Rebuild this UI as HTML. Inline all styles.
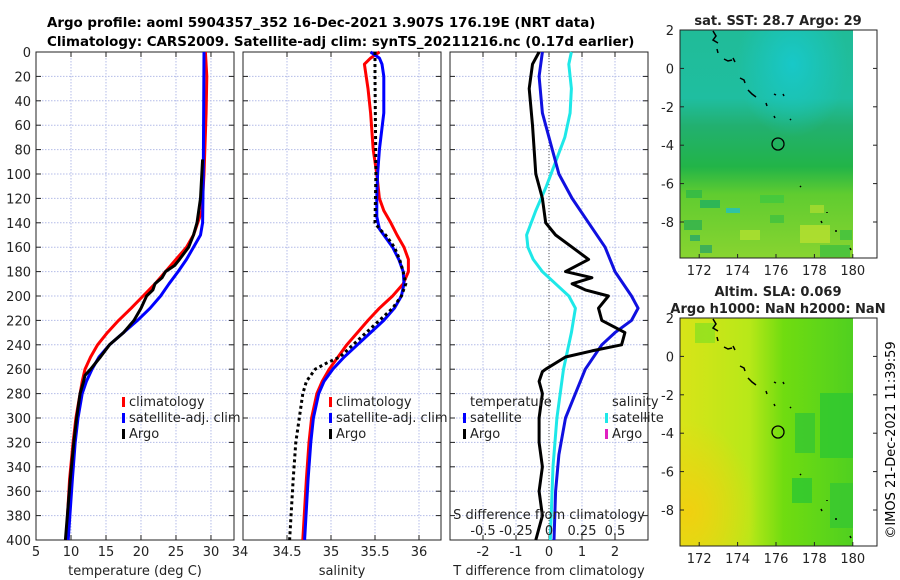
<!DOCTYPE html>
<html><head><meta charset="utf-8">
<style>
body{margin:0;background:#fff;}
svg{display:block;font-family:"DejaVu Sans","Liberation Sans",sans-serif;}
</style></head>
<body>
<svg id="c" width="900" height="580" viewBox="0 0 900 580">
<defs>
<linearGradient id="sstg" x1="0" y1="0" x2="0" y2="1">
<stop offset="0" stop-color="#20bc98"/><stop offset="0.3" stop-color="#1fbea0"/>
<stop offset="0.42" stop-color="#22b070"/><stop offset="0.6" stop-color="#22b448"/>
<stop offset="0.72" stop-color="#60cc30"/><stop offset="1" stop-color="#88d430"/>
</linearGradient>
<radialGradient id="sstc" cx="0.65" cy="0.15" r="0.32"><stop offset="0" stop-color="#18c8c8"/><stop offset="1" stop-color="#18c8c8" stop-opacity="0"/></radialGradient>
<linearGradient id="slag" x1="0" y1="0" x2="1" y2="0">
<stop offset="0" stop-color="#d8e418"/><stop offset="0.4" stop-color="#b8e818"/>
<stop offset="0.6" stop-color="#70dc10"/><stop offset="1" stop-color="#50d020"/>
</linearGradient>
<radialGradient id="slao" cx="0.05" cy="0.85" r="0.4"><stop offset="0" stop-color="#f0d010"/><stop offset="1" stop-color="#f0d010" stop-opacity="0"/></radialGradient>
</defs>
<g id="titles" font-weight="bold" font-size="13.4">
<text x="47" y="27">Argo profile: aoml 5904357_352 16-Dec-2021 3.907S 176.19E (NRT data)</text>
<text x="47" y="46">Climatology: CARS2009. Satellite-adj clim: synTS_20211216.nc (0.17d earlier)</text>
</g>
<g id="plots"></g>
<g id="maps"></g>
<text transform="translate(895,440) rotate(-90)" text-anchor="middle" font-size="13">©IMOS 21-Dec-2021 11:39:59</text>
</svg>
<script>
// ---------- data ----------
const depthTicks=[0,20,40,60,80,100,120,140,160,180,200,220,240,260,280,300,320,340,360,380,400];
const tTicks=[5,10,15,20,25,30];
const sTicks=[34,34.5,35,35.5,36];
const dTTicks=[-2,-1,0,1,2];
const dSTicks=[-0.5,-0.25,0,0.25,0.5];
const dSTickLabels=["-0.5","-0.25","0","0.25","0.5"];

const tClimDepth=[0,20,50,100,130,150,160,170,180,190,200,210,220,230,240,250,260,270,280,300,320,350,400];
const tClimVal=[29.2,29.4,29.3,29,28.7,27.5,26.5,25,23.5,22,20.3,18.6,16.8,15.2,13.8,12.8,12,11.6,11.3,10.7,10.3,9.8,9.3];
const tSatDepth=[0,100,140,150,160,170,180,190,200,210,220,230,240,250,260,270,280,300,320,350,400];
const tSatVal=[29,28.9,28.8,28.5,27.5,26.5,25.3,24,22.8,21.3,19.5,17.5,15.5,14,13,12.2,11.6,11,10.6,10.2,9.6];
const tArgoDepth=[88,120,140,150,160,170,175,180,185,190,195,200,210,220,230,240,250,260,265,270,280,300,320,350,400];
const tArgoVal=[28.8,28.5,28,27.5,26.8,25.5,24.8,23.5,23,22,21.7,20.8,20,19,17.5,15.5,14.2,12.8,12,11.8,11.3,10.8,10.4,9.9,9.2];

const sClimDepth=[0,5,10,30,50,80,100,120,130,140,150,160,170,180,190,200,210,220,230,240,250,260,270,280,300,320,350,400];
const sClimVal=[35.55,35.45,35.38,35.42,35.45,35.48,35.52,35.55,35.6,35.68,35.75,35.83,35.88,35.88,35.82,35.7,35.55,35.42,35.3,35.18,35.08,34.98,34.9,34.84,34.78,34.75,34.72,34.68];
const sSatDepth=[0,5,10,20,50,80,100,120,135,145,150,160,170,180,190,200,210,220,230,240,250,260,270,280,300,320,350,400];
const sSatVal=[35.45,35.55,35.58,35.6,35.6,35.55,35.53,35.52,35.52,35.55,35.6,35.7,35.77,35.82,35.83,35.8,35.72,35.6,35.45,35.3,35.15,35.02,34.92,34.86,34.8,34.77,34.74,34.7];
const sArgoDepth=[0,20,100,140,145,150,160,170,180,190,200,210,220,230,240,250,255,260,270,280,300,320,350,400];
const sArgoVal=[35.5,35.5,35.51,35.5,35.55,35.62,35.72,35.78,35.82,35.85,35.8,35.7,35.55,35.4,35.25,35.1,34.95,34.82,34.72,34.68,34.64,34.6,34.57,34.53];

const dTSatDepth=[0,20,50,80,100,120,140,160,180,200,210,220,230,240,260,280,300,330,360,400];
const dTSatVal=[-0.2,-0.3,-0.2,0.1,0.3,0.7,1.2,1.7,2.0,2.5,2.7,2.5,2.0,1.6,1.1,0.8,0.5,0.3,0.2,0.15];
const dTArgoDepth=[0,10,30,60,100,120,140,150,160,170,180,185,190,195,200,210,220,230,240,245,250,260,262,270,280,300,320,340,360,380,400];
const dTArgoVal=[-0.3,-0.5,-0.6,-0.5,-0.4,-0.2,-0.1,0.2,0.7,1.2,0.5,1.3,0.7,1.1,1.8,1.5,1.6,2.3,2.2,1.3,0.5,-0.1,-0.2,-0.3,-0.2,-0.3,-0.3,-0.2,-0.3,-0.2,-0.4];
const dSSatDepth=[0,10,30,50,70,90,110,130,150,160,170,180,190,200,210,230,260,300,340,400];
const dSSatVal=[0.17,0.15,0.17,0.16,0.12,0.05,-0.02,-0.1,-0.17,-0.16,-0.12,-0.05,0.05,0.15,0.2,0.17,0.11,0.06,0.03,0.01];

const NS="http://www.w3.org/2000/svg";
function mk(tag,attrs,parent){const e=document.createElementNS(NS,tag);for(const k in attrs)e.setAttribute(k,attrs[k]);parent.appendChild(e);return e;}
const Y0=52,Y1=540;
const yD=d=>Y0+(d/400)*(Y1-Y0);
const plots=document.getElementById('plots');

function panel(name,x0,x1,vmin,vmax,ticks,labels){
  const g=mk('g',{},plots);
  
  
  const sx=v=>x0+(v-vmin)/(vmax-vmin)*(x1-x0);
  depthTicks.forEach(d=>{const l=mk('line',{x1:x0,x2:x1,y1:yD(d),y2:yD(d),stroke:'#b4bce8','stroke-dasharray':'1.5,1.5','stroke-width':1},g);
    
    mk('line',{x1:x0,x2:x0+5,y1:yD(d),y2:yD(d),stroke:'#222'},g);mk('line',{x1:x1-5,x2:x1,y1:yD(d),y2:yD(d),stroke:'#222'},g);});
  ticks.forEach((v,i)=>{const x=sx(v);const l=mk('line',{x1:x,x2:x,y1:Y0,y2:Y1,stroke:'#b4bce8','stroke-dasharray':'1.5,1.5'},g);
    
    mk('line',{x1:x,x2:x,y1:Y1-5,y2:Y1,stroke:'#222'},g);mk('line',{x1:x,x2:x,y1:Y0,y2:Y0+5,stroke:'#222'},g);
    if(labels){const t=mk('text',{x:x,y:Y1+16,'text-anchor':'middle','font-size':13,fill:'#222'},g);t.textContent=labels[i];
      }});
  const r=mk('rect',{x:x0,y:Y0,width:x1-x0,height:Y1-Y0,fill:'none',stroke:'#222','stroke-width':1},g);
  
  return {g,sx};
}
function line(p,depths,vals,color,name,dash){
  const pts=depths.map((d,i)=>p.sx(vals[i]).toFixed(1)+','+yD(d).toFixed(1)).join(' ');
  const l=mk('polyline',{points:pts,fill:'none',stroke:color,'stroke-width':3,'stroke-linejoin':'round'},p.g);
  if(dash)l.setAttribute('stroke-dasharray',dash);
  
  
}
function text(g,x,y,s,name,size,anchor){const t=mk('text',{x:x,y:y,'font-size':size||13,fill:'#222','text-anchor':anchor||'start'},g);t.textContent=s;
  return t;}
function legBar(g,x,y,color,name){const r=mk('rect',{x:x,y:y-10,width:3,height:10,fill:color},g);
  }

// Panel 1: temperature
const p1=panel('temperature-panel',36,234,5,33.29,tTicks,tTicks.map(String));
depthTicks.forEach(d=>{const t=text(p1.g,31,yD(d)+5,String(d),'y-tick-label',13,'end');});
line(p1,tClimDepth,tClimVal,'#f00','temperature-climatology-line');
line(p1,tSatDepth,tSatVal,'#00f','temperature-satellite-line');
line(p1,tArgoDepth,tArgoVal,'#000','temperature-argo-line');
text(p1.g,135,575,'temperature (deg C)','x-axis-title',13,'middle');
text(p1.g,240,556,'34','x-tick-label',13,'middle');
legBar(p1.g,122,407,'#f00','legend-climatology-swatch');text(p1.g,129,406,'climatology','legend-climatology');
legBar(p1.g,122,423,'#00f','legend-satellite-swatch');text(p1.g,129,422,'satellite-adj. clim','legend-satellite');
legBar(p1.g,122,439,'#000','legend-argo-swatch');text(p1.g,129,438,'Argo','legend-argo');

// Panel 2: salinity
const p2=panel('salinity-panel',243,441,34,36.25,sTicks.slice(1),["34.5","35","35.5","36"]);
line(p2,sClimDepth,sClimVal,'#f00','salinity-climatology-line');
line(p2,sSatDepth,sSatVal,'#00f','salinity-satellite-line');
line(p2,sArgoDepth,sArgoVal,'#000','salinity-argo-line','3,3');
text(p2.g,342,575,'salinity','x-axis-title',13,'middle');
legBar(p2.g,329,407,'#f00','legend-climatology-swatch');text(p2.g,336,406,'climatology','legend-climatology');
legBar(p2.g,329,423,'#00f','legend-satellite-swatch');text(p2.g,336,422,'satellite-adj. clim','legend-satellite');
legBar(p2.g,329,439,'#000','legend-argo-swatch');text(p2.g,336,438,'Argo','legend-argo');

// Panel 3: differences
const p3=panel('difference-panel',450,648,-3,3,dTTicks,dTTicks.map(String));
const zl=mk('line',{x1:p3.sx(0),x2:p3.sx(0),y1:Y0,y2:Y1,stroke:'#555','stroke-dasharray':'1,2'},p3.g);

const p3s={g:p3.g,sx:v=>450+(v+0.75)/1.5*198};
line(p3s,dSSatDepth,dSSatVal,'#1ee8e8','salinity-diff-satellite-line');
line(p3,dTSatDepth,dTSatVal,'#1010e0','temperature-diff-satellite-line');
line(p3,dTArgoDepth,dTArgoVal,'#000','temperature-diff-argo-line');
text(p3.g,549,575,'T difference from climatology','x-axis-title',13,'middle');
text(p3.g,549,519,'S difference from climatology','s-axis-title',13,'middle');
dSTicks.forEach((v,i)=>text(p3.g,p3s.sx(v),535,dSTickLabels[i],'s-tick-label',13,'middle'));
text(p3.g,470,406,'temperature','legend-temperature-header');
legBar(p3.g,463,423,'#00f','legend-t-satellite-swatch');text(p3.g,470,422,'satellite','legend-t-satellite');
legBar(p3.g,463,439,'#000','legend-t-argo-swatch');text(p3.g,470,438,'Argo','legend-t-argo');
text(p3.g,612,406,'salinity','legend-salinity-header');
legBar(p3.g,605,423,'#1ee8e8','legend-s-satellite-swatch');text(p3.g,612,422,'satellite','legend-s-satellite');
legBar(p3.g,605,439,'#e020c0','legend-s-argo-swatch');text(p3.g,612,438,'Argo','legend-s-argo');

// ---------- maps ----------
const maps=document.getElementById('maps');
const latTicks=[2,0,-2,-4,-6,-8];
const lonTicks=[172,174,176,178,180];
const coast=[[[713,31],[716,36],[713,40],[718,43]],[[717,49],[718,53]],[[724,59],[728,61],[732,60]],[[733,58],[735,62]],[[740,78],[744,80],[745,83]],[[748,90],[752,94],[756,97]],[[766,103],[767,106]],[[774,94],[776,95]],[[783,94],[784,96]],[[774,116],[775,118]],[[790,119],[791,120]],[[800,186],[801,187]],[[827,212],[827,213]],[[821,221],[822,223]],[[836,230],[836,232]],[[850,248],[851,250]]];
function map(name,top,title,fill,overlay,extra,lonShift){
  const g=mk('g',{},maps);
  
  const h=228;
  mk('rect',{x:680,y:top,width:173,height:h,fill:fill},g);
  mk('rect',{x:680,y:top,width:173,height:h,fill:overlay},g);
  extra(g,top);
  const off=top-30;
  coast.forEach(c=>{const l=mk('polyline',{points:c.map(p=>p[0]+','+(p[1]+off)).join(' '),fill:'none',stroke:'#000','stroke-width':1.5},g);
    });
  const ci=mk('circle',{cx:778,cy:top+114,r:6,fill:'none',stroke:'#000','stroke-width':1.3},g);
  
  const fr=mk('rect',{x:680,y:top,width:197,height:h,fill:'none',stroke:'#222'},g);
  
  latTicks.forEach(v=>{const y=top+(2-v)*19.2;mk('line',{x1:680,x2:684,y1:y,y2:y,stroke:'#222'},g);mk('line',{x1:873,x2:877,y1:y,y2:y,stroke:'#222'},g);
    text(g,674,y+5,String(v),'lat-tick-label',13,'end');});
  lonTicks.forEach(v=>{const x=680+lonShift+(v-171)*19.2;mk('line',{x1:x,x2:x,y1:top+h-4,y2:top+h,stroke:'#222'},g);
    text(g,x,top+h+17,String(v),'lon-tick-label',13,'middle');});
  title.forEach((t,i)=>{const e=text(g,778,top-22+i*17+(title.length==1?17:0),t,'map-title',13,'middle');e.setAttribute('font-weight','bold');});
}
map('sst-map',30,['sat. SST: 28.7 Argo: 29'],'url(#sstg)','url(#sstc)',(g,t)=>{
  [[686,t+160,16,8,'#30b848'],[700,t+170,20,8,'#20b060'],[726,t+178,14,5,'#20c0c0'],[684,t+190,18,10,'#30b050'],[740,t+200,20,10,'#b0e030'],[800,t+195,30,18,'#b8e030'],[820,t+215,30,12,'#40c040'],[700,t+215,12,8,'#30a860'],[770,t+185,14,8,'#40c040'],[690,t+205,10,6,'#28a868'],[760,t+165,24,8,'#40c840'],[810,t+175,14,8,'#a8dc30'],[840,t+200,12,10,'#40c040']].forEach(r=>mk('rect',{x:r[0],y:r[1],width:r[2],height:r[3],fill:r[4],opacity:0.8},g));
},0);
map('sla-map',318,['Altim. SLA: 0.069','Argo h1000: NaN h2000: NaN'],'url(#slag)','url(#slao)',(g,t)=>{
  [[820,t+75,33,65,'#30c830'],[795,t+95,20,40,'#38c830'],[792,t+160,20,25,'#30c830'],[830,t+165,23,45,'#38c830'],[695,t+5,20,20,'#90e020']].forEach(r=>mk('rect',{x:r[0],y:r[1],width:r[2],height:r[3],fill:r[4],opacity:0.85},g));
},0);
</script>
</body></html>
